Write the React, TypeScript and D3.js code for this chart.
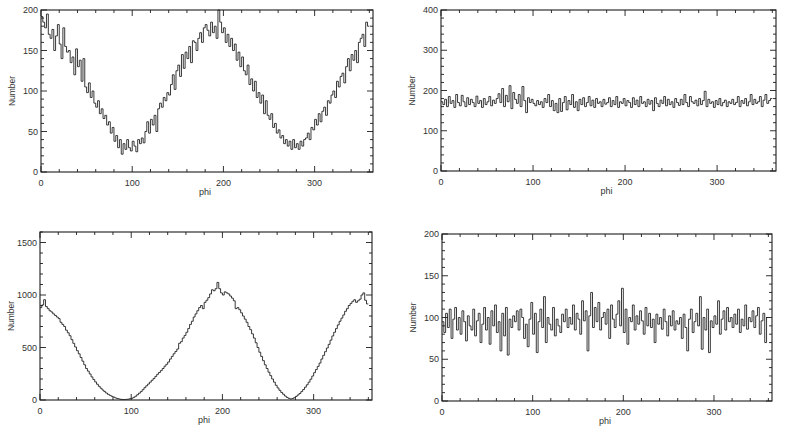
import React from "react";
import * as d3 from "d3";

// ---- data (2-degree bins, phi 0..360) ----
const binWidth = 2;

const topLeftCounts = [
  192, 185, 178, 195, 170, 165, 176, 150, 168, 182,
  158, 140, 178, 155, 148, 150, 135, 142, 120, 152,
  130, 138, 112, 140, 105, 98, 110, 92, 100, 85,
  80, 88, 72, 78, 66, 70, 58, 62, 48, 55,
  38, 45, 30, 40, 22, 35, 28, 40, 30, 26,
  38, 32, 25, 40, 35, 42, 36, 50, 62, 48,
  65, 58, 70, 50, 78, 85, 80, 92, 88, 98,
  95, 108, 120, 102, 125, 132, 118, 145, 128, 148,
  140, 155, 135, 162, 160, 150, 165, 172, 160, 178,
  182, 175, 168, 185, 172, 180, 165, 200, 185, 172,
  178, 160, 170, 155, 165, 150, 158, 138, 148, 130,
  142, 125, 120, 132, 108, 115, 100, 112, 92, 98,
  85, 95, 72, 88, 70, 65, 72, 55, 60, 48,
  52, 42, 45, 35, 40, 32, 38, 28, 40, 30,
  35, 28, 38, 32, 40, 42, 48, 40, 55, 52,
  65, 58, 72, 62, 75, 80, 70, 88, 85, 95,
  100, 92, 112, 105, 118, 122, 110, 130, 140, 125,
  145, 138, 150, 135, 160, 165, 170, 155, 185, 180,
];

const topRightCounts = [
  172, 165, 178, 160, 185, 168, 175, 158, 190, 170,
  162, 188, 172, 160, 182, 165, 178, 170, 160, 186,
  168, 175, 158, 180, 165, 172, 185, 162, 176, 168,
  180, 192, 170, 205, 160, 188, 172, 212, 155, 195,
  178, 168, 190, 160, 210, 175, 145, 182, 170, 178,
  168, 162, 175, 165, 172, 158, 180, 170, 190, 160,
  175, 150, 168, 145, 180, 148, 170, 185, 152, 175,
  165, 190, 158, 172, 150, 178, 165, 182, 160, 170,
  185, 162, 176, 158, 180, 168, 172, 160, 178, 166,
  170, 182, 160, 175, 165, 185, 158, 172, 168, 180,
  162, 175, 170, 158, 182, 165, 176, 160, 185, 168,
  172, 160, 178, 166, 175, 150, 182, 168, 160, 176,
  168, 185, 162, 178, 165, 172, 158, 180, 170, 163,
  178, 165, 190, 170, 160, 185, 172, 168, 176, 162,
  180, 165, 175, 198, 160, 178, 168, 172, 158, 175,
  165, 180, 162, 170, 176, 160, 172, 168, 178, 165,
  170, 185, 160, 175, 168, 180, 162, 172, 190, 165,
  178, 168, 172, 185, 160, 176, 190, 168, 175, 180,
];

const bottomLeftCounts = [
  880, 905, 955, 890, 870, 850, 838, 820, 805, 790,
  775, 740, 720, 700, 665, 640, 612, 575, 540, 505,
  470, 440, 405, 370, 335, 300, 275, 248, 220, 195,
  172, 150, 130, 112, 95, 80, 66, 54, 44, 35,
  28, 20, 14, 10, 6, 5, 4, 6, 8, 12,
  16, 25, 36, 50, 65, 80, 98, 118, 135, 152,
  170, 188, 205, 225, 245, 262, 280, 300, 322, 340,
  362, 390, 415, 440, 462, 485, 540, 555, 590, 615,
  645, 680, 720, 750, 790, 820, 850, 880, 900, 870,
  930, 950, 975, 1010, 1050, 1040, 1060, 1120, 1060, 1020,
  1000, 1030, 1020, 1010, 990, 970, 945, 870, 880, 860,
  830, 800, 770, 740, 700, 670, 630, 590, 545, 500,
  455, 415, 375, 335, 300, 265, 232, 200, 170, 140,
  115, 92, 72, 55, 38, 25, 16, 10, 14, 22,
  34, 48, 62, 80, 100, 122, 145, 170, 198, 228,
  260, 290, 320, 352, 390, 425, 460, 495, 530, 570,
  610, 645, 680, 715, 750, 780, 810, 845, 870, 900,
  920, 940, 955, 930, 945, 960, 1000, 1020, 950, 915,
];

const bottomRightCounts = [
  95, 82, 105, 88, 110, 75, 98, 112, 85, 100,
  80, 108, 95, 72, 102, 90, 85, 110, 78, 96,
  105, 70, 92, 112, 85, 100, 68, 108, 90, 115,
  82, 95, 60, 105, 78, 112, 55, 98, 88, 102,
  95, 108, 85, 110, 100, 75, 92, 65, 98, 118,
  80, 105, 58, 95, 110, 88, 125, 70, 100, 92,
  85, 112, 78, 98, 90, 82, 104, 95, 110, 88,
  100, 92, 115, 85, 105, 98, 80, 120, 96, 108,
  60, 102, 130, 88, 112, 95, 118, 85, 100, 106,
  92, 110, 75, 115, 98, 88, 104, 120, 90, 135,
  82, 110, 68, 100, 95, 115, 85, 102, 92, 108,
  96, 80, 112, 90, 105, 88, 98, 70, 104, 92,
  100, 86, 110, 95, 78, 102, 90, 108, 85, 96,
  92, 100, 75, 104, 88, 60, 98, 110, 82, 95,
  105, 90, 125, 62, 100, 85, 110, 58, 96, 88,
  102, 92, 120, 80, 98, 108, 85, 112, 95, 100,
  88, 104, 92, 110, 82, 98, 90, 115, 86, 100,
  95, 108, 88, 102, 112, 80, 96, 105, 70, 100,
];

const xTickLabels = [0, 100, 200, 300];
const yTicksTopLeft = [0, 50, 100, 150, 200];
const yTicksTopRight = [0, 100, 200, 300, 400];
const yTicksBottomLeft = [0, 500, 1000, 1500];
const yTicksBottomRight = [0, 50, 100, 150, 200];

const xLabel = "phi";
const yLabel = "Number";

type PanelSpec = {
  counts: number[];
  yMax: number;
  yTicks: number[];
  yMinorStep: number;
  left: number;
  right: number;
  top: number;
  bottom: number;
};

const panels: PanelSpec[] = [
  { counts: topLeftCounts, yMax: 200, yTicks: yTicksTopLeft, yMinorStep: 10, left: 41, right: 373, top: 10, bottom: 172 },
  { counts: topRightCounts, yMax: 400, yTicks: yTicksTopRight, yMinorStep: 20, left: 441, right: 776, top: 10, bottom: 171 },
  { counts: bottomLeftCounts, yMax: 1600, yTicks: yTicksBottomLeft, yMinorStep: 100, left: 40, right: 372, top: 232, bottom: 400 },
  { counts: bottomRightCounts, yMax: 200, yTicks: yTicksBottomRight, yMinorStep: 10, left: 442, right: 772, top: 234, bottom: 401 },
];

const INK = "#1c1c1c";
const FONT = "'Liberation Sans', Arial, Helvetica, sans-serif";

function Panel({ p }: { p: PanelSpec }) {
  const x = d3.scaleLinear().domain([0, 364]).range([p.left, p.right]);
  const y = d3.scaleLinear().domain([0, p.yMax]).range([p.bottom, p.top]);

  const pts: [number, number][] = p.counts.map((c, i) => [i * binWidth, c]);
  pts.push([p.counts.length * binWidth, p.counts[p.counts.length - 1]]);
  const line = d3
    .line<[number, number]>()
    .x((d) => x(d[0]))
    .y((d) => y(Math.min(d[1], p.yMax)))
    .curve(d3.curveStepAfter);

  const xMinor = d3.range(0, 361, 20);
  const yMinor = d3.range(0, p.yMax + 0.001, p.yMinorStep);
  const majorLen = 6;
  const minorLen = 3;

  return (
    <g>
      <path d={line(pts) ?? ""} fill="none" stroke="#222" strokeWidth={0.9} />
      <rect
        x={p.left}
        y={p.top}
        width={p.right - p.left}
        height={p.bottom - p.top}
        fill="none"
        stroke={INK}
        strokeWidth={1.1}
      />
      {xMinor.map((v) => {
        const isMajor = v % 100 === 0;
        const L = isMajor ? majorLen : minorLen;
        return (
          <g key={"xt" + v}>
            <line x1={x(v)} x2={x(v)} y1={p.bottom} y2={p.bottom - L} stroke={INK} strokeWidth={0.9} />
            <line x1={x(v)} x2={x(v)} y1={p.top} y2={p.top + L} stroke={INK} strokeWidth={0.9} />
          </g>
        );
      })}
      {yMinor.map((v) => {
        const isMajor = p.yTicks.includes(v);
        const L = isMajor ? majorLen : minorLen;
        return (
          <g key={"yt" + v}>
            <line x1={p.left} x2={p.left + L} y1={y(v)} y2={y(v)} stroke={INK} strokeWidth={0.9} />
            <line x1={p.right} x2={p.right - L} y1={y(v)} y2={y(v)} stroke={INK} strokeWidth={0.9} />
          </g>
        );
      })}
      {xTickLabels.map((v) => (
        <text
          key={"xl" + v}
          x={x(v)}
          y={p.bottom + 14}
          textAnchor="middle"
          fontSize={9}
          fontFamily={FONT}
          fill="#333"
        >
          {v}
        </text>
      ))}
      {p.yTicks.map((v) => (
        <text
          key={"yl" + v}
          x={p.left - 3}
          y={y(v) + 3}
          textAnchor="end"
          fontSize={9}
          fontFamily={FONT}
          fill="#333"
        >
          {v}
        </text>
      ))}
      <text
        x={(p.left + p.right) / 2 - 2}
        y={p.bottom + 23}
        textAnchor="middle"
        fontSize={9}
        fontFamily={FONT}
        fill="#333"
      >
        {xLabel}
      </text>
      <text
        transform={`translate(${p.left - 26},${(p.top + p.bottom) / 2}) rotate(-90)`}
        textAnchor="middle"
        fontSize={8.5}
        fontFamily={FONT}
        fill="#333"
      >
        {yLabel}
      </text>
    </g>
  );
}

export default function App() {
  return (
    <svg
      width={785}
      height={436}
      viewBox="0 0 785 436"
      style={{ position: "absolute", left: 0, top: 0, background: "#fff" }}
    >
      <rect width={785} height={436} fill="#fff" />
      {panels.map((p, i) => (
        <Panel key={i} p={p} />
      ))}
    </svg>
  );
}
